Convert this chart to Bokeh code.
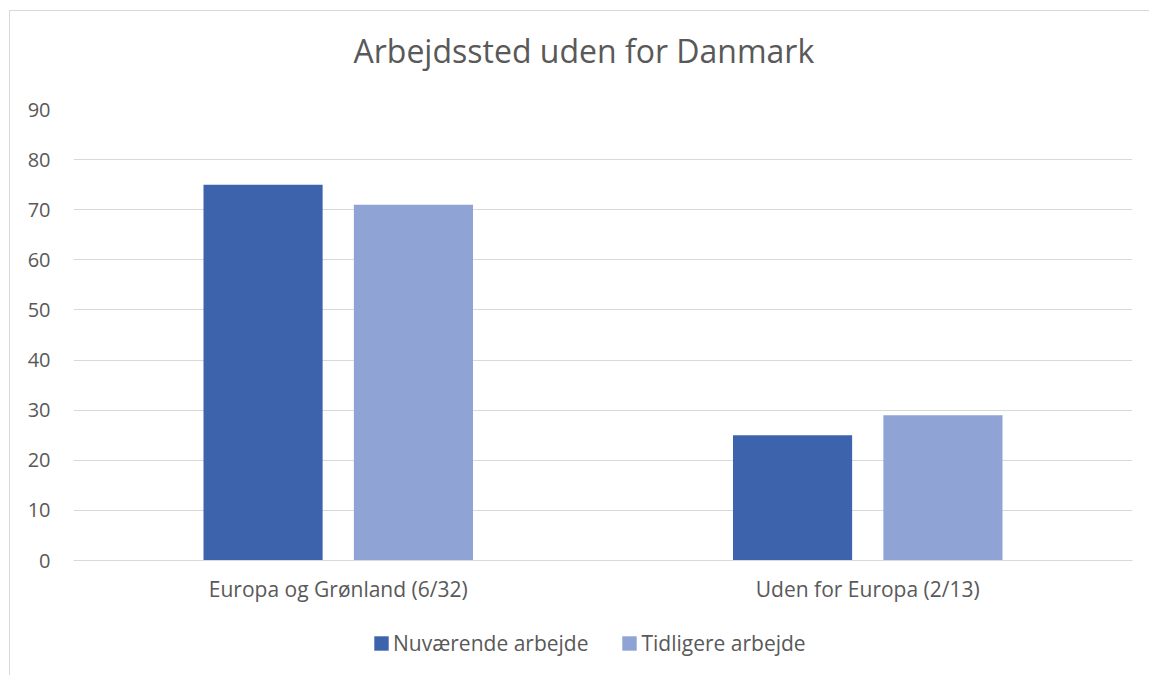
from bokeh.plotting import figure
from bokeh.layouts import column
from bokeh.models import (ColumnDataSource, FactorRange, Range1d, FixedTicker, Legend,
                          LegendItem, Title)
from bokeh.transform import dodge
from bokeh.embed import file_html
from bokeh.resources import INLINE

categories = ["Europa og Grønland (6/32)", "Uden for Europa (2/13)"]
series_names = ["Nuværende arbejde", "Tidligere arbejde"]
nuvaerende = [75, 25]
tidligere = [71, 29]
y_ticks = [0, 10, 20, 30, 40, 50, 60, 70, 80, 90]

colors = ["#3C63AC", "#8FA3D4"]
text_color = "#595959"
grid_color = "#D9D9D9"
FONT = "Open Sans"

source = ColumnDataSource(dict(cat=categories, nuv=nuvaerende, tid=tidligere))

# ---- main chart ----
p = figure(
    x_range=FactorRange(*categories, range_padding=0),
    y_range=Range1d(0, 90),
    width=1139, height=609,
    output_backend="svg", toolbar_location=None,
    min_border_left=63, min_border_right=17,
    min_border_top=98, min_border_bottom=60,
    title="Arbejdssted uden for Danmark",
)
p.outline_line_color = None
p.background_fill_color = "white"
p.border_fill_color = "white"

# blank spacer title between the real title and the plot area
p.add_layout(Title(text=" ", text_font_size="1px", standoff=30), "above")

p.title.align = "left"
p.title.offset = 280
p.title.text_font = FONT
p.title.text_font_size = "32px"
p.title.text_font_style = "normal"
p.title.text_color = text_color
p.title.standoff = 10

r1 = p.vbar(x=dodge("cat", -0.142, range=p.x_range), top="nuv", width=0.225, source=source,
            fill_color=colors[0], line_color=None)
r2 = p.vbar(x=dodge("cat", 0.142, range=p.x_range), top="tid", width=0.225, source=source,
            fill_color=colors[1], line_color=None)

p.xgrid.grid_line_color = None
p.ygrid.grid_line_color = grid_color
p.ygrid.grid_line_width = 1
p.yaxis.ticker = FixedTicker(ticks=y_ticks)

for ax in (p.xaxis[0], p.yaxis[0]):
    ax.major_tick_line_color = None
    ax.minor_tick_line_color = None
    ax.major_label_text_font = FONT
    ax.major_label_text_color = text_color
p.yaxis.major_label_text_font_size = "20px"
p.xaxis.major_label_text_font_size = "21px"
p.yaxis.axis_line_color = None
p.yaxis.major_label_standoff = 17
p.xaxis.axis_line_color = grid_color
p.xaxis.major_label_standoff = 8

# ---- legend strip (its frame is aligned with the main frame by the column) ----
lg = figure(
    width=1139, height=55,
    x_range=FactorRange(*categories, range_padding=0), y_range=Range1d(100, 101),
    output_backend="svg", toolbar_location=None,
    x_axis_location=None, y_axis_location=None,
    min_border=0, min_border_left=0, min_border_right=0,
    min_border_top=0, min_border_bottom=0,
)
lg.outline_line_color = None
lg.grid.grid_line_color = None
lg.background_fill_color = "white"
lg.border_fill_color = "white"

# same series drawn out of view; only used for the legend swatches
lr1 = lg.vbar(x="cat", top="nuv", width=0.225, source=source, fill_color=colors[0], line_color=None)
lr2 = lg.vbar(x="cat", top="tid", width=0.225, source=source, fill_color=colors[1], line_color=None)

legend = Legend(
    items=[LegendItem(label=series_names[0], renderers=[lr1]),
           LegendItem(label=series_names[1], renderers=[lr2])],
    orientation="horizontal",
    location=(299, 18),
    glyph_width=18, glyph_height=18,
    label_text_font=FONT, label_text_font_size="21px", label_text_color=text_color,
    label_standoff=3, label_width=195, spacing=32, padding=0, margin=0,
    border_line_color=None, background_fill_alpha=0,
)
lg.add_layout(legend, "center")

layout = column(p, lg, spacing=0)
layout.styles = {"border-top": "1px solid #D9D9D9", "border-left": "1px solid #D9D9D9",
                 "margin-left": "9px", "margin-top": "10px"}

open("out.html", "w").write(file_html(layout, INLINE))
